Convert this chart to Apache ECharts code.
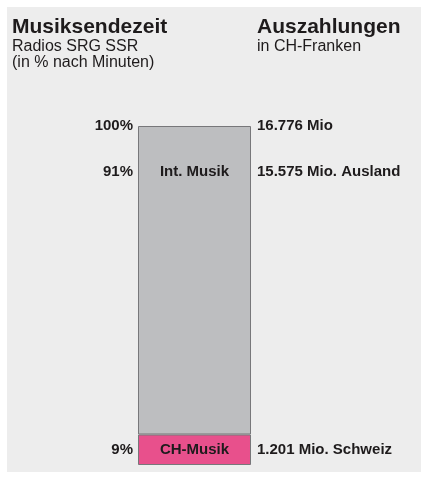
<!DOCTYPE html>
<html>
<head>
<meta charset="utf-8">
<script src="https://cdn.jsdelivr.net/npm/echarts@6/dist/echarts.min.js"></script>
<style>
html, body { margin: 0; padding: 0; background: #ffffff; }
#main { width: 428px; height: 479px; }
</style>
</head>
<body>
<div id="main"></div>
<script>
// Musiksendezeit in Prozent
var categories = ['Musik'];
var chShare = [9];
var intShare = [91];
var segmentNames = ['CH-Musik', 'Int. Musik'];

// Beschriftungen links / rechts, in Höhe der Werte (0-100)
var labelAt = [4.4, 86.5, 100];
var leftLabels = ['9%', '91%', '100%'];
var rightLabels = ['1.201 Mio. Schweiz', '15.575 Mio. Ausland', '16.776 Mio'];

var font = 'Liberation Sans, Arial, sans-serif';
var ink = '#1e1b1c';

function pick(list) {
    return function (value) {
        var best = 0;
        for (var i = 0; i < labelAt.length; i++) {
            if (Math.abs(labelAt[i] - value) < Math.abs(labelAt[best] - value)) best = i;
        }
        return list[best];
    };
}

var myChart = echarts.init(document.getElementById('main'));
myChart.setOption({
    backgroundColor: '#ffffff',
    animation: false,
    graphic: [
        { type: 'rect', z: -10, shape: { x: 7, y: 7, width: 414, height: 465 }, style: { fill: '#ededed' } },
        { type: 'text', x: 12, y: 27, style: { text: 'Musiksendezeit', font: 'bold 21px ' + font, fill: ink, verticalAlign: 'middle' } },
        { type: 'text', x: 12, y: 47, style: { text: 'Radios SRG SSR', font: '16px ' + font, fill: ink, verticalAlign: 'middle' } },
        { type: 'text', x: 12, y: 63, style: { text: '(in % nach Minuten)', font: '16px ' + font, fill: ink, verticalAlign: 'middle' } },
        { type: 'text', x: 257, y: 27, style: { text: 'Auszahlungen', font: 'bold 21px ' + font, fill: ink, verticalAlign: 'middle' } },
        { type: 'text', x: 257, y: 47, style: { text: 'in CH-Franken', font: '16px ' + font, fill: ink, verticalAlign: 'middle' } }
    ],
    grid: { left: 138, right: 177, top: 126, bottom: 14 },
    xAxis: {
        type: 'category',
        data: categories,
        show: false
    },
    yAxis: [
        {
            type: 'value', min: 0, max: 100, position: 'left',
            axisLine: { show: false }, axisTick: { show: false }, splitLine: { show: false },
            axisLabel: {
                customValues: labelAt, formatter: pick(leftLabels), margin: 5,
                fontFamily: font, fontWeight: 'bold', fontSize: 15, color: ink
            }
        },
        {
            type: 'value', min: 0, max: 100, position: 'right',
            axisLine: { show: false }, axisTick: { show: false }, splitLine: { show: false },
            axisLabel: {
                customValues: labelAt, formatter: pick(rightLabels), margin: 6,
                fontFamily: font, fontWeight: 'bold', fontSize: 15, color: ink
            }
        }
    ],
    series: [
        {
            name: segmentNames[0], type: 'bar', stack: 'zeit', barWidth: '100%',
            data: chShare,
            itemStyle: { color: '#e8508c', borderColor: '#77777a', borderWidth: 1 },
            label: {
                show: true, position: 'inside', formatter: segmentNames[0],
                fontFamily: font, fontWeight: 'bold', fontSize: 15, color: ink
            }
        },
        {
            name: segmentNames[1], type: 'bar', stack: 'zeit', barWidth: '100%',
            data: intShare,
            itemStyle: { color: '#bdbec0', borderColor: '#77777a', borderWidth: 1 },
            label: {
                show: true, position: ['50%', 46], align: 'center', verticalAlign: 'middle',
                formatter: segmentNames[1],
                fontFamily: font, fontWeight: 'bold', fontSize: 15, color: ink
            }
        }
    ]
});
</script>
</body>
</html>
